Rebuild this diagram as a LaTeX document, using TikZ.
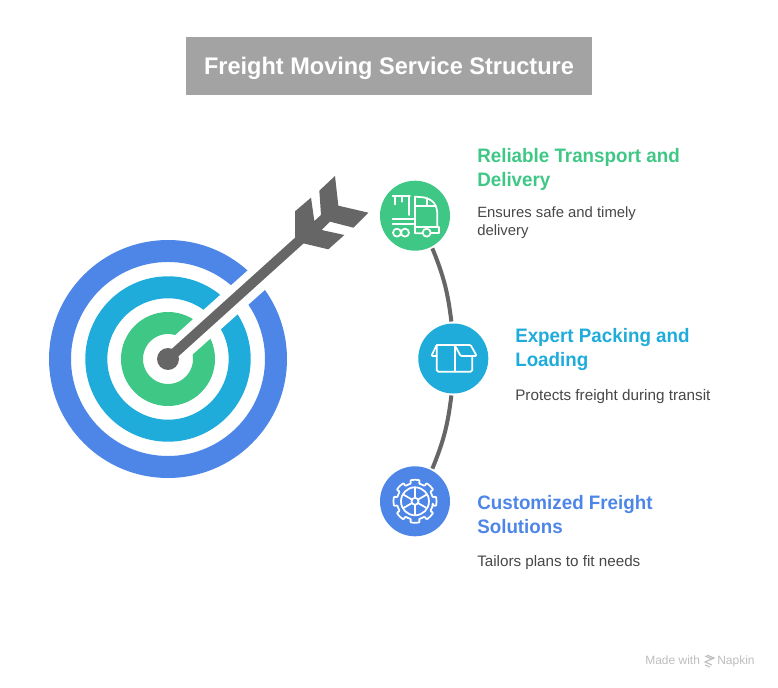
\documentclass[tikz,border=0pt]{standalone}
\usepackage{fontspec}
\setmainfont{Liberation Sans}
\newfontfamily\headfont[FakeStretch=0.965]{Liberation Sans}
\newfontfamily\titlefont[FakeStretch=0.98]{Liberation Sans}
\definecolor{cgreen}{HTML}{3EC785}
\definecolor{cteal}{HTML}{1FACDB}
\definecolor{cblue}{HTML}{4E86E8}
\definecolor{cgrey}{HTML}{666666}
\definecolor{ctitle}{HTML}{A3A3A3}
\definecolor{cbody}{HTML}{474747}
\definecolor{cfoot}{HTML}{BDBDBD}
\tikzset{
  ring/.style={line width=22*0.75pt},
  badge/.style={circle,minimum size=52.5pt,inner sep=0pt,outer sep=1.5pt,fill=#1},
  link/.style={draw=cgrey,line width=3pt},
  head/.style={anchor=base west,inner sep=0pt,align=left,font=\headfont\bfseries\fontsize{14.6pt}{18pt}\selectfont,text=#1},
  body/.style={anchor=base west,inner sep=0pt,align=left,font=\fontsize{#1}{13pt}\selectfont,text=cbody},
  foot/.style={anchor=base west,inner sep=0pt,text=cfoot,font=\fontsize{9pt}{10pt}\selectfont},
  icon/.style={draw=white,line width=1.3pt,line join=round,line cap=round},
}
\begin{document}
\begin{tikzpicture}[x=0.75pt,y=-0.75pt]
\useasboundingbox (0,0) rectangle (778,688);
% title
\node[fill=ctitle,minimum width=304.5pt,minimum height=43.5pt,inner sep=0pt,text=white,text height=13.5pt,text depth=0pt,font=\titlefont\bfseries\fontsize{18pt}{22pt}\selectfont] (title) at (389,66) {Freight Moving Service Structure};
% target
\coordinate (tc) at (168,359);
\draw[ring,cblue] (tc) circle (108);
\draw[ring,cteal] (tc) circle (71.7);
\draw[ring,cgreen] (tc) circle (36);
\draw[white,line width=26*0.75pt] (tc) -- (271,267);
% arrow
\coordinate (ae) at (306,234.5);
\draw[cgrey,line width=7.5pt] (tc) -- (ae);
\fill[cgrey] (tc) circle (11);
\begin{scope}[shift={(285,170)},scale=0.33333]
\fill[cgrey] (30,200)--(30,124)--(78,83)--(88,153)--(108,135)--(103,62)--(150,18)--(160,107)--(250,128)--(205,173)--(135,155)--(110,180)--(178,195)--(130,238)--(55,220)--cycle;
\end{scope}
% badges
\node[badge=cgreen] (n1) at (415,215.7) {};
\node[badge=cteal] (n2) at (453.3,358.5) {};
\node[badge=cblue] (n3) at (415,501.3) {};
\draw[link] (n1.-62.7) to[bend left=7.7] (n2.93.7);
\draw[link] (n2.-93.7) to[bend left=7.7] (n3.62.7);
% truck icon
\begin{scope}[shift={(280,165)},scale=0.33333]
\draw[icon] (338,92)--(390,92) (345,92)--(345,118) (365,92)--(365,110) (388,92)--(388,150);
\draw[icon] (338,163)--(400,163) (338,176)--(400,176);
\draw[icon] (425,205)--(405,205)--(405,95)--(430,97) .. controls (455,102) and (472,115) .. (472,150)--(472,185);
\draw[icon] (405,122)--(468,122) (440,100)--(440,122) (405,185)--(478,185)--(478,205)--(454,205);
\draw[icon] (351,203) circle (12) (375,203) circle (12) (440,203) circle (12);
\end{scope}
% box icon
\begin{scope}[shift={(424,330)},scale=0.33333]
\draw[icon,rounded corners=1.2pt] (38,45)--(38,125)--(145,125)--(145,78);
\draw[icon] (92,45)--(92,125);
\draw[icon,rounded corners=0.8pt] (92,45)--(38,45)--(22,78)--(38,78);
\draw[icon,rounded corners=0.8pt] (92,45)--(140,45)--(158,78)--(110,78)--cycle;
\end{scope}
% gear icon
\begin{scope}[shift={(415,501.3)}]
\draw[icon,rounded corners=0.9pt] (11.25:18)
  \foreach \a in {0,45,...,315}{ arc[start angle=\a+11.25,end angle=\a+33.75,radius=18] -- (\a+31:21.5) arc[start angle=\a+31,end angle=\a+59,radius=21.5] -- (\a+56.25:18)} -- cycle;
\draw[icon] (0,0) circle (14) (0,0) circle (3.5);
\foreach \a in {90,150,...,420} \draw[icon] (\a:3.5)--(\a:14);
\end{scope}
% text
\node[head=cgreen] (h1) at (477,187) {Reliable Transport and\\Delivery};
\node[body=11.15pt] (b1) at (477,235) {Ensures safe and timely\\delivery};
\node[head=cteal] (h2) at (515,366) {Expert Packing and\\Loading};
\node[body=11.45pt] (b2) at (515,400) {Protects freight during transit};
\node[head=cblue] (h3) at (477,533) {Customized Freight\\Solutions};
\node[body=11.4pt] (b3) at (477,566) {Tailors plans to fit needs};
% footer
\node[foot] (f1) at (645,664) {Made with};
\node[foot] (f2) at (717,664) {Napkin};
\draw[cfoot,line width=0.8pt] (705,656)--(712,659)--(705,662)--(712,665) (707,655)--(714,658)--(707,661) (705,665)--(710,667);
\end{tikzpicture}
\end{document}
